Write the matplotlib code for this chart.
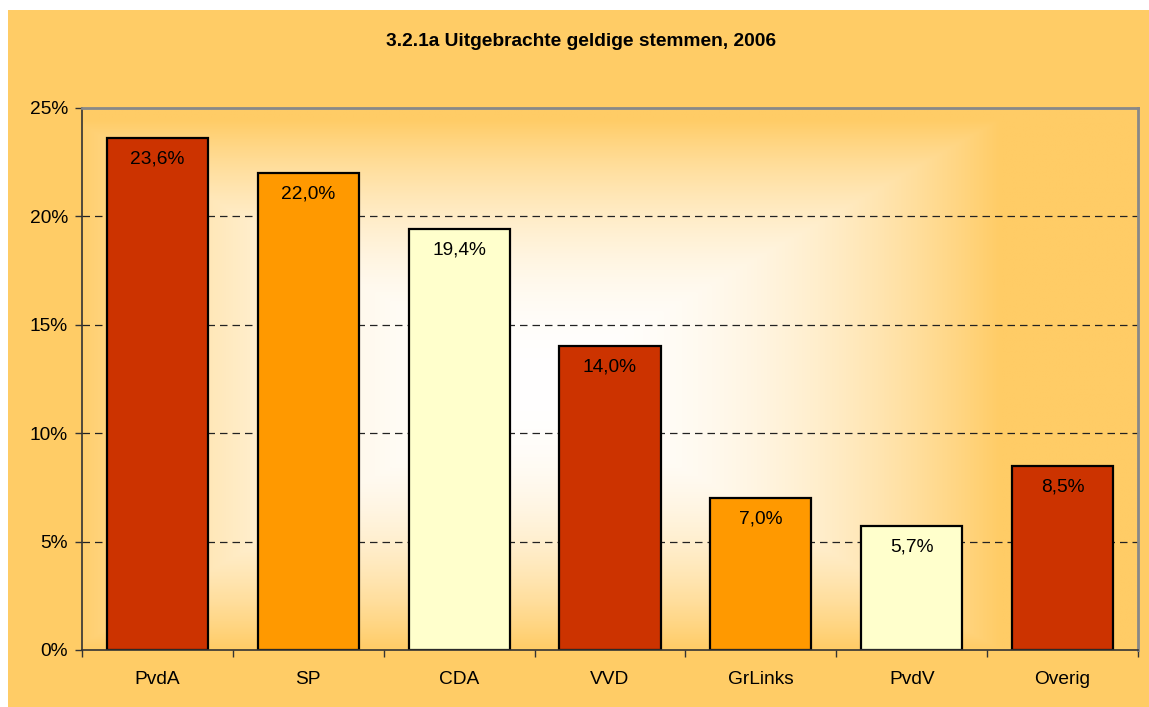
import matplotlib

matplotlib.use("Agg")
import matplotlib.pyplot as plt
import numpy as np
from matplotlib.patches import Rectangle
from matplotlib.ticker import FixedLocator, NullFormatter

plt.rcParams["font.family"] = ["Liberation Sans", "DejaVu Sans"]

BG = "#FFCC66"
RED = "#CC3300"
ORANGE = "#FF9900"
PALE = "#FFFFCC"

parties = ["PvdA", "SP", "CDA", "VVD", "GrLinks", "PvdV", "Overig"]
shares = [23.6, 22.0, 19.4, 14.0, 7.0, 5.7, 8.5]
bar_colors = [RED, ORANGE, PALE, RED, ORANGE, PALE, RED]
yticks = [0, 5, 10, 15, 20, 25]

W, H = 1149, 707
fig = plt.figure(figsize=(W / 100, H / 100), dpi=100, facecolor="white")
fig.patches.append(Rectangle((8 / W, 0), 1 - 8 / W, 1 - 10 / H,
                             transform=fig.transFigure, facecolor=BG,
                             edgecolor="none", zorder=-10))

ax = fig.add_axes([82 / W, (H - 650) / H, 1056 / W, 542 / H])
ax.set_facecolor(BG)

# rectangular "from centre" gradient, white in the middle -> orange at edges
gx = np.linspace(-1, 1, 500)
gy = np.linspace(-1, 1, 300)
X, Y = np.meshgrid(gx, gy)
d = np.maximum(np.abs(X + 0.14) / 0.88, np.abs(Y - 0.02) / 0.98)
t = np.clip(d, 0, 1) ** 2.2
c0 = np.array([1.0, 1.0, 1.0])
c1 = np.array(matplotlib.colors.to_rgb(BG))
img = c0[None, None, :] * (1 - t[..., None]) + c1[None, None, :] * t[..., None]
ax.imshow(img, extent=[0, 1, 0, 1], transform=ax.transAxes, aspect="auto",
          zorder=0, interpolation="bilinear")

x = np.arange(len(parties))
bars = ax.bar(x, shares, width=0.67, color=bar_colors, edgecolor="black",
              linewidth=1.6, zorder=3)
for b, v in zip(bars, shares):
    ax.annotate(f"{v:.1f}%".replace(".", ","),
                (b.get_x() + b.get_width() / 2, v), xytext=(0, -15),
                textcoords="offset points", ha="center", va="center",
                fontsize=13.8, color="black", zorder=4)

ax.set_xlim(-0.5, len(parties) - 0.5)
ax.set_ylim(0, 25)
ax.set_yticks(yticks)
ax.set_yticklabels([f"{v}%" for v in yticks], fontsize=13.8)
for v in yticks[1:-1]:
    ax.axhline(v, color="#222222", linewidth=0.9, linestyle=(0, (6, 4)), zorder=1)

ax.set_xticks(x)
ax.set_xticklabels(parties, fontsize=13.8)
ax.tick_params(axis="x", which="major", length=0, pad=15)
ax.xaxis.set_minor_locator(FixedLocator(np.arange(-0.5, len(parties), 1.0)))
ax.xaxis.set_minor_formatter(NullFormatter())
ax.tick_params(axis="x", which="minor", length=5, width=1, color="#333333",
               direction="out")
ax.tick_params(axis="y", length=5, width=1, color="#333333", direction="out",
               pad=5)

for side in ("left", "bottom"):
    ax.spines[side].set_color("#333333")
    ax.spines[side].set_linewidth(1.2)
for side in ("top", "right"):
    ax.spines[side].set_color("#888888")
    ax.spines[side].set_linewidth(2)
ax.spines["bottom"].set_zorder(5)

fig.text(581 / W, 1 - 42 / H, "3.2.1a Uitgebrachte geldige stemmen, 2006",
         ha="center", va="center", fontsize=13.8, fontweight="bold")

fig.savefig("out.png", dpi=100, facecolor="white")
